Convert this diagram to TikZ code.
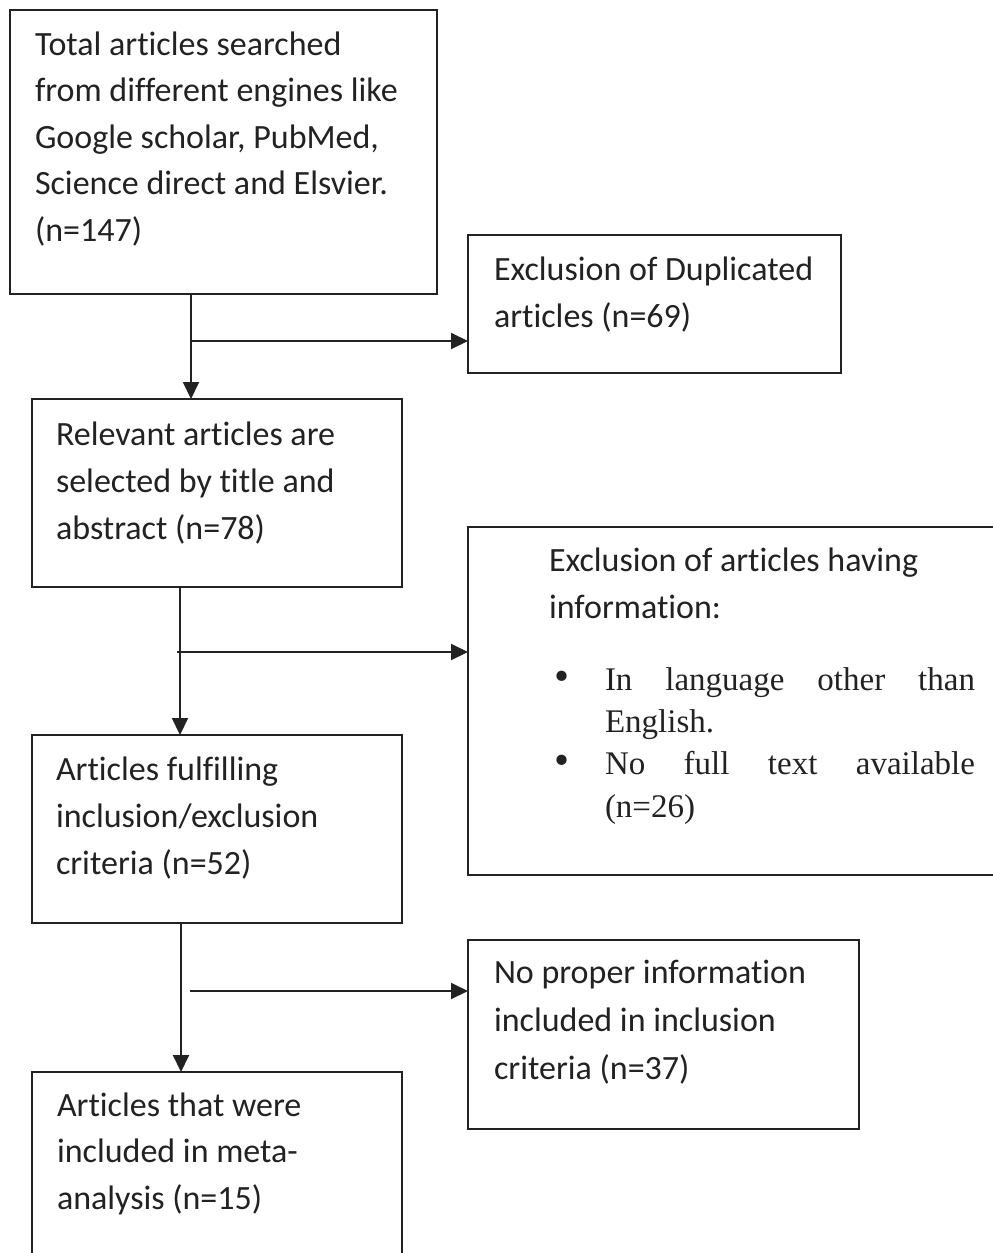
\documentclass[tikz,border=0pt]{standalone}
\usepackage{fontspec}
\setmainfont{Carlito}[Ligatures=NoCommon]
\newfontfamily\timesf{Liberation Serif}
\usetikzlibrary{arrows.meta}
\definecolor{ink}{HTML}{222222}
\begin{document}
\begin{tikzpicture}[x=1pt,y=-1pt,
  box/.style={draw=ink,line width=2pt,anchor=north west,inner sep=0pt,outer sep=0pt},
  txt/.style={anchor=base west,inner sep=0pt,outer sep=0pt,text=ink,align=left,
    font=\fontsize{34}{47}\selectfont},
  arr/.style={draw=ink,line width=2pt,-{Triangle[length=17pt,width=16pt]}}]
\useasboundingbox (0,0) rectangle (993,1253);
\fill[white] (0,0) rectangle (993,1253);
% boxes
\node[box,minimum width=427pt,minimum height=284pt] (b1) at (10,10) {};
\node[box,minimum width=373pt,minimum height=138pt] (b2) at (468,235) {};
\node[box,minimum width=370pt,minimum height=188pt] (b3) at (32,399) {};
\node[box,minimum width=540pt,minimum height=348pt] (b4) at (468,527) {};
\node[box,minimum width=370pt,minimum height=188pt] (b5) at (32,735) {};
\node[box,minimum width=391pt,minimum height=189pt] (b6) at (468,940) {};
\node[box,minimum width=370pt,minimum height=220pt] (b7) at (32,1072) {};
% texts (anchored at the baseline of their last line)
\node[txt,font=\fontsize{34}{46.5}\selectfont] (t1) at (35,241) {Total articles searched\\from different engines like\\Google scholar, PubMed,\\Science direct and Elsvier.\\(n=147)};
\node[txt] (t2) at (494,327) {Exclusion of Duplicated\\articles (n=69)};
\node[txt] (t3) at (56,539) {Relevant articles are\\selected by title and\\abstract (n=78)};
\node[txt] (t4) at (549,618) {Exclusion of articles having\\information:};
\node[txt,font=\timesf\fontsize{33}{42.3}\selectfont] (t4b) at (554,817)
 {\makebox[51pt][l]{\scalebox{1.3}{\textbullet}}\makebox[370pt][s]{In language other than}\\
  \hspace*{51pt}English.\\
  \makebox[51pt][l]{\scalebox{1.3}{\textbullet}}\makebox[370pt][s]{No full text available}\\
  \hspace*{51pt}(n=26)};
\node[txt] (t5) at (56,874) {Articles fulfilling\\inclusion/exclusion\\criteria (n=52)};
\node[txt,font=\fontsize{34}{48}\selectfont] (t6) at (494,1079) {No proper information\\included in inclusion\\criteria (n=37)};
\node[txt,font=\fontsize{34}{46.5}\selectfont] (t7) at (57,1209) {Articles that were\\included in meta-\\analysis (n=15)};
% connectors
\coordinate (j1) at (191,341);
\coordinate (j2) at (180,652);
\coordinate (h2) at (177,652);
\coordinate (j3) at (181,991);
\coordinate (h3) at (190,991);
\draw[arr] (b1.south -| j1) -- (b3.north -| j1);
\draw[arr] (j1) -- (b2.west |- j1);
\draw[arr] (b3.south -| j2) -- (b5.north -| j2);
\draw[arr] (h2) -- (b4.west |- h2);
\draw[arr] (b5.south -| j3) -- (b7.north -| j3);
\draw[arr] (h3) -- (b6.west |- h3);
\end{tikzpicture}
\end{document}
